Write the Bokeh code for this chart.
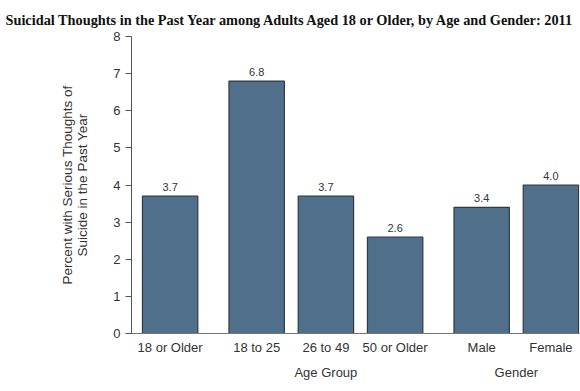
from bokeh.plotting import figure
from bokeh.models import ColumnDataSource, Range1d, FixedTicker, LabelSet, LinearAxis
from bokeh.core.properties import value
from bokeh.embed import file_html
from bokeh.resources import INLINE

title = "Suicidal Thoughts in the Past Year among Adults Aged 18 or Older, by Age and Gender: 2011"
categories = ["18 or Older", "18 to 25", "26 to 49", "50 or Older", "Male", "Female"]
group_of = [0, 1, 1, 1, 2, 2]
group_names = ["", "Age Group", "Gender"]
values = [3.7, 6.8, 3.7, 2.6, 3.4, 4.0]
y_ticks = [0, 1, 2, 3, 4, 5, 6, 7, 8]

GAP = 0.25
xs = [i + g * GAP for i, g in enumerate(group_of)]
labels_txt = [f"{v:.1f}" for v in values]

src = ColumnDataSource(dict(x=xs, top=values, lab=labels_txt))

TEXT = "#333333"
FONT = "Liberation Sans"

p = figure(width=580, height=391, output_backend="svg", toolbar_location=None,
           x_range=Range1d(-0.558, xs[-1] + 0.413), y_range=Range1d(0, 8),
           min_border_left=131, min_border_right=1, min_border_top=36, min_border_bottom=58)
p.outline_line_color = None
p.grid.visible = False

p.title.text = title
p.title.text_font = "Liberation Serif"
p.title.text_font_style = "bold"
p.title.text_font_size = "14.3px"
p.title.text_color = "#111111"
p.title.offset = -126
p.title.standoff = 18

p.vbar(x="x", top="top", width=0.8, source=src, fill_color="#4f6f8b",
       line_color="#2e3a44", line_width=1.2)

p.add_layout(LabelSet(x="x", y="top", text="lab", source=src, y_offset=5,
                      text_align="center", text_baseline="bottom",
                      text_font=value(FONT), text_font_size=value("11px"),
                      text_color=value(TEXT)))

# y axis
ya = p.yaxis[0]
ya.ticker = FixedTicker(ticks=y_ticks)
ya.major_label_text_font = FONT
ya.major_label_text_font_size = "13px"
ya.major_label_text_color = TEXT
ya.axis_line_color = "#555555"
ya.major_tick_line_color = "#555555"
ya.major_tick_out = 6
ya.major_tick_in = 0
ya.minor_tick_line_color = None
ya.axis_label = "Percent with Serious Thoughts of\nSuicide in the Past Year"
ya.axis_label_text_font = FONT
ya.axis_label_text_font_size = "13.5px"
ya.axis_label_text_font_style = "normal"
ya.axis_label_text_color = TEXT
ya.axis_label_text_line_height = 1.0
ya.axis_label_standoff = 20

# x axis
xa = p.xaxis[0]
xa.ticker = FixedTicker(ticks=xs)
xa.major_label_overrides = {x: c for x, c in zip(xs, categories)}
xa.major_label_text_font = FONT
xa.major_label_text_font_size = "13px"
xa.major_label_text_color = TEXT
xa.major_label_standoff = 6
xa.major_tick_out = 0
xa.major_tick_in = 0
xa.axis_line_color = "#777777"
xa.major_tick_line_color = None
xa.minor_tick_line_color = None

# group labels as a second axis below
g_ticks, g_labels = [], {}
for gi, name in enumerate(group_names):
    if not name:
        continue
    members = [x for x, g in zip(xs, group_of) if g == gi]
    cx = sum(members) / len(members)
    g_ticks.append(cx)
    g_labels[cx] = name
ga = LinearAxis(ticker=FixedTicker(ticks=g_ticks), major_label_overrides=g_labels,
                axis_line_color=None, major_tick_line_color=None,
                minor_tick_line_color=None, major_tick_out=0, major_tick_in=0,
                major_label_standoff=7,
                major_label_text_font=FONT, major_label_text_font_size="13px",
                major_label_text_color=TEXT)
p.add_layout(ga, "below")

open("out.html", "w").write(file_html(p, INLINE))
